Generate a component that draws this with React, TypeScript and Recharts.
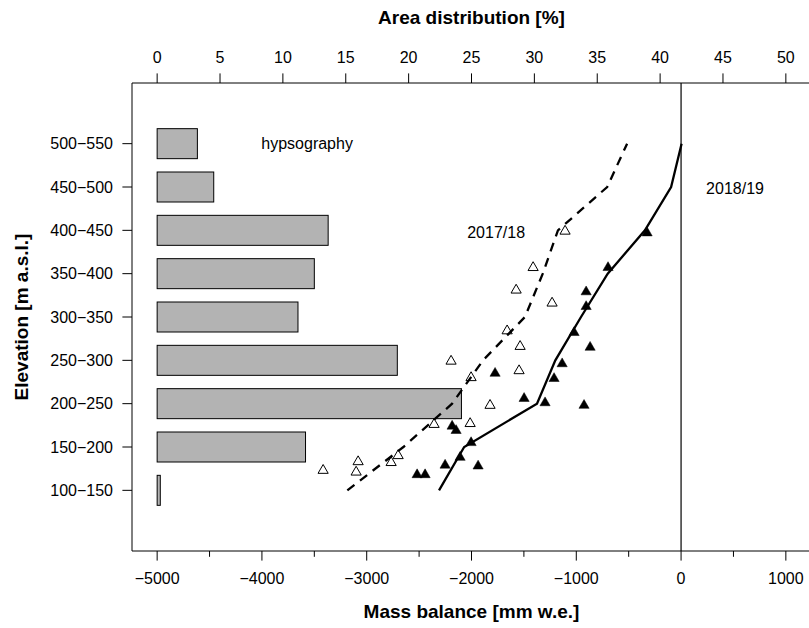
import { ComposedChart, Bar, Line, Scatter, XAxis, YAxis, ZAxis, ReferenceLine, ReferenceDot } from "recharts";

const FONT = "'Liberation Sans', Arial, Helvetica, sans-serif";

// elevation bands (hypsography)
const BANDS = ["100−150", "150−200", "200−250", "250−300", "300−350", "350−400", "400−450", "450−500", "500−550"];
const BAND_MID = [125, 175, 225, 275, 325, 375, 425, 475, 525];
const AREA_PCT = [0.25, 11.8, 24.2, 19.1, 11.2, 12.5, 13.6, 4.5, 3.2];

// mass balance profiles per band [mm w.e.]
const MB_1718 = [-3185, -2650, -2185, -1890, -1490, -1320, -1175, -705, -515];
const MB_1819 = [-2310, -2070, -1375, -1200, -955, -700, -345, -95, 5];

// stake readings
const STAKE_1718_MB = [-1107, -1412, -1574, -1231, -1660, -1536, -1546, -2195, -2004, -1823, -2357, -2013, -3416, -3082, -3101, -2767, -2700];
const STAKE_1718_ELEV = [424, 382, 356, 341, 309, 291, 263, 274, 255, 223, 201, 202, 148, 158, 146, 157, 165];
const STAKE_1819_MB = [-2519, -2443, -2252, -2109, -1937, -2185, -2147, -2004, -1775, -1498, -1298, -926, -1212, -1135, -1021, -868, -906, -906, -697, -324];
const STAKE_1819_ELEV = [143, 143, 154, 163, 153, 199, 194, 180, 260, 231, 226, 223, 254, 271, 307, 290, 337, 354, 382, 422];

const MB_TICKS = [-5000, -4500, -4000, -3500, -3000, -2500, -2000, -1500, -1000, -500, 0, 500, 1000];
const PCT_TICKS = [0, 5, 10, 15, 20, 25, 30, 35, 40, 45, 50];

const NOTE_TEXT = ["hypsography", "2017/18", "2018/19"];
const NOTE_MB = [-3569, -1765, 515];
const NOTE_ELEV = [525, 423, 474];

const BAR_THICK = 30;

const hypso = BAND_MID.map((elev, i) => ({ elev, pct: AREA_PCT[i] }));
const profile1718 = BAND_MID.map((elev, i) => ({ elev, mb: MB_1718[i] }));
const profile1819 = BAND_MID.map((elev, i) => ({ elev, mb: MB_1819[i] }));
const stakes1718 = STAKE_1718_MB.map((mb, i) => ({ mb, elev: STAKE_1718_ELEV[i] }));
const stakes1819 = STAKE_1819_MB.map((mb, i) => ({ mb, elev: STAKE_1819_ELEV[i] }));

const fmtNum = (v: number) => (v < 0 ? "\u2212" + Math.abs(v) : String(v));

const MbTick = ({ x, y, payload }: any) => {
  const major = payload.value % 1000 === 0;
  return (
    <g>
      <line x1={x} x2={x} y1={y} y2={y + (major ? 9.6 : 5.8)} stroke="#000" strokeWidth={1} />
      {major && (
        <text x={x} y={y + 33} textAnchor="middle" fontSize={16} fontFamily={FONT} fill="#000">
          {fmtNum(payload.value)}
        </text>
      )}
    </g>
  );
};

const PctTick = ({ x, y, payload }: any) => (
  <g>
    <line x1={x} x2={x} y1={y} y2={y - 9.6} stroke="#000" strokeWidth={1} />
    <text x={x} y={y - 20} textAnchor="middle" fontSize={16} fontFamily={FONT} fill="#000">
      {payload.value}
    </text>
  </g>
);

const BandTick = ({ x, y, payload }: any) => {
  const idx = BAND_MID.indexOf(payload.value);
  return (
    <g>
      <line x1={x - 9.6} x2={x} y1={y} y2={y} stroke="#000" strokeWidth={1} />
      <text x={x - 19} y={y + 5.8} textAnchor="end" fontSize={16} fontFamily={FONT} fill="#000">
        {BANDS[idx]}
      </text>
    </g>
  );
};

// horizontal bar centred on the band's elevation
const HypsoBar = (props: any) => {
  const { x, y, width, height } = props;
  const cy = y + (height || 0) / 2;
  return <rect x={x} y={cy - BAR_THICK / 2} width={Math.max(width, 0)} height={BAR_THICK} fill="#b3b3b3" stroke="#000" strokeWidth={1} />;
};

const titleStyle = { fontSize: 19, fontWeight: 700, fontFamily: FONT, fill: "#000" };

const BottomTitle = ({ viewBox }: any) => {
  const vb = viewBox || { x: 132, y: 551, width: 679, height: 77 };
  return (
    <text x={vb.x + vb.width / 2} y={vb.y + 67} textAnchor="middle" {...titleStyle}>
      Mass balance [mm w.e.]
    </text>
  );
};

const TopTitle = ({ viewBox }: any) => {
  const vb = viewBox || { x: 132, y: 0, width: 679, height: 83 };
  return (
    <text x={vb.x + vb.width / 2} y={vb.y + vb.height - 59} textAnchor="middle" {...titleStyle}>
      Area distribution [%]
    </text>
  );
};

const LeftTitle = ({ viewBox }: any) => {
  const vb = viewBox || { x: 0, y: 83, width: 132, height: 468 };
  const cx = vb.x + 28;
  const cy = vb.y + vb.height / 2;
  return (
    <text x={cx} y={cy} transform={`rotate(-90, ${cx}, ${cy})`} textAnchor="middle" {...titleStyle}>
      Elevation [m a.s.l.]
    </text>
  );
};

export default function App() {
  return (
    <div style={{ position: "absolute", left: 0, top: 0, width: 809, height: 628, overflow: "hidden", background: "#fff" }}>
      <ComposedChart
        width={812}
        height={628}
        data={hypso}
        layout="vertical"
        margin={{ top: 0, right: 1, bottom: 0, left: 0 }}
        style={{ fontFamily: FONT }}
      >
        <XAxis
          xAxisId="mb"
          type="number"
          dataKey="mb"
          orientation="bottom"
          domain={[-5240, 1240]}
          allowDataOverflow
          ticks={MB_TICKS}
          interval={0}
          height={77}
          tickSize={0}
          tickMargin={0}
          tickLine={false}
          axisLine={{ stroke: "#000", strokeWidth: 1 }}
          tick={<MbTick />}
          label={{ content: <BottomTitle /> }}
        />
        <XAxis
          xAxisId="pct"
          type="number"
          orientation="top"
          domain={[-2, 52]}
          allowDataOverflow
          ticks={PCT_TICKS}
          interval={0}
          height={83}
          tickSize={0}
          tickMargin={0}
          tickLine={false}
          axisLine={{ stroke: "#000", strokeWidth: 1 }}
          tick={<PctTick />}
          label={{ content: <TopTitle /> }}
        />
        <YAxis
          type="number"
          dataKey="elev"
          domain={[55, 595]}
          reversed
          allowDataOverflow
          ticks={BAND_MID}
          interval={0}
          width={132}
          tickSize={0}
          tickMargin={0}
          tickLine={false}
          axisLine={{ stroke: "#000", strokeWidth: 1 }}
          tick={<BandTick />}
          label={{ content: <LeftTitle /> }}
        />
        <ZAxis range={[45, 45]} />
        <Bar xAxisId="pct" dataKey="pct" shape={<HypsoBar />} fill="#b3b3b3" stroke="#000" isAnimationActive={false} />
        <ReferenceLine xAxisId="mb" x={0} stroke="#000" strokeWidth={1.2} />
        <Line
          xAxisId="mb"
          data={profile1718}
          dataKey="mb"
          type="linear"
          stroke="#000"
          strokeWidth={2.3}
          strokeDasharray="9 7"
          dot={false}
          isAnimationActive={false}
        />
        <Line
          xAxisId="mb"
          data={profile1819}
          dataKey="mb"
          type="linear"
          stroke="#000"
          strokeWidth={2.3}
          dot={false}
          isAnimationActive={false}
        />
        <Scatter xAxisId="mb" data={stakes1718} shape="triangle" fill="none" stroke="#000" strokeWidth={1} isAnimationActive={false} />
        <Scatter xAxisId="mb" data={stakes1819} shape="triangle" fill="#000" stroke="#000" strokeWidth={0.5} isAnimationActive={false} />
        {NOTE_TEXT.map((t, i) => (
          <ReferenceDot
            key={t}
            xAxisId="mb"
            x={NOTE_MB[i]}
            y={NOTE_ELEV[i]}
            r={0}
            fill="none"
            stroke="none"
            label={{ value: t, position: "center", fill: "#000", fontSize: 16, fontFamily: FONT }}
          />
        ))}
      </ComposedChart>
    </div>
  );
}
